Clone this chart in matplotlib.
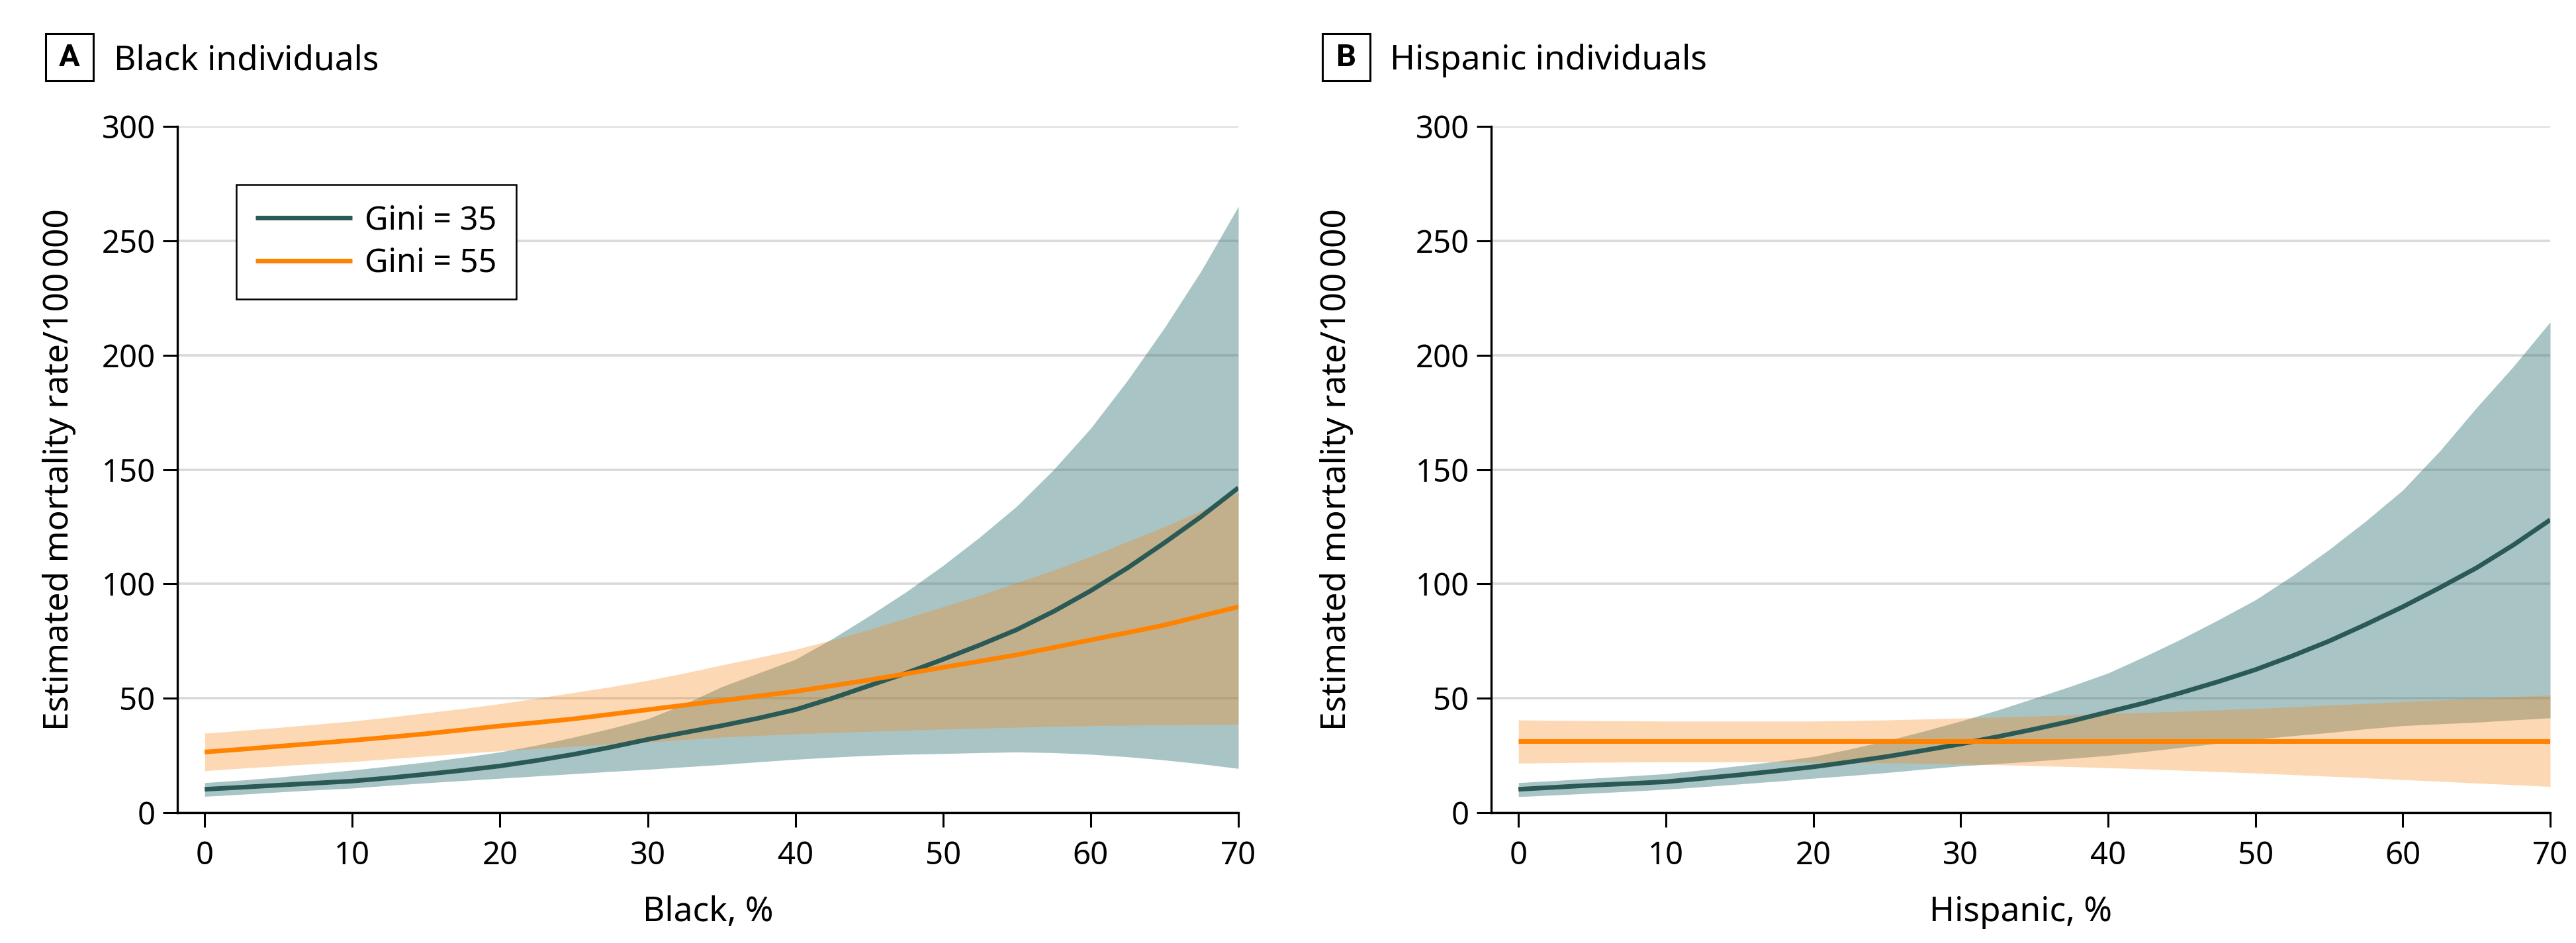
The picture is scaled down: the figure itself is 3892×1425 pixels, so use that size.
import matplotlib
matplotlib.use("Agg")
import matplotlib.pyplot as plt
from matplotlib.patches import Rectangle

plt.rcParams["font.family"] = ["Noto Sans", "DejaVu Sans"]
plt.rcParams["font.stretch"] = "condensed"

# percent of population (x axis)
pct = [0, 2.5, 5, 7.5, 10, 12.5, 15, 17.5, 20, 22.5, 25, 27.5, 30, 32.5, 35,
       37.5, 40, 42.5, 45, 47.5, 50, 52.5, 55, 57.5, 60, 62.5, 65, 67.5, 70]

# Panel A: Black individuals
a_g35 = [10.2, 11.1, 12, 12.9, 13.8, 15.2, 16.8, 18.5, 20.4, 22.8, 25.5, 28.6, 32, 35, 38,
         41.3, 45, 50, 55.5, 61, 67, 73.3, 80, 88, 97, 107, 118, 129.5, 142]
a_g35_lo = [7.1, 8, 9, 9.9, 10.7, 11.9, 13, 14, 15, 16, 17, 18, 18.9, 20, 21,
            22.2, 23.3, 24.2, 25, 25.5, 25.8, 26.2, 26.5, 26.2, 25.5, 24.4, 23, 21.3, 19.3]
a_g35_hi = [13.1, 14.2, 15.5, 17, 18.6, 20.3, 22.1, 24.2, 26.5, 29.5, 33, 36.8, 41, 47.5, 55,
            61, 67, 76, 86, 96.5, 108, 120.5, 134, 150, 168, 189, 212, 237, 265]
a_g55 = [26.5, 27.7, 29, 30.3, 31.6, 33, 34.5, 36.2, 37.9, 39.4, 41, 43, 45, 47, 49,
         51, 53, 55.5, 58, 60.7, 63.5, 66.2, 69, 72.2, 75.5, 78.7, 82, 86, 90]
a_g55_lo = [18.3, 19.4, 20.4, 21.4, 22.3, 23.5, 24.7, 25.9, 27, 28, 29, 29.9, 30.8, 31.9, 33,
            33.7, 34.4, 35, 35.5, 36, 36.5, 36.9, 37.3, 37.7, 38, 38.2, 38.3, 38.5, 38.6]
a_g55_hi = [34.7, 35.9, 37.2, 38.6, 40, 41.7, 43.6, 45.5, 47.6, 50, 52.5, 55, 57.8, 61, 64.5,
            67.8, 71.3, 75.5, 80, 85, 90, 95, 100.5, 106, 112, 118.5, 125, 132, 140]

# Panel B: Hispanic individuals
b_g35 = [10.2, 11.1, 12, 12.7, 13.5, 15, 16.5, 18.2, 20, 22.2, 24.5, 27.2, 30, 33.2, 36.5,
         40, 44, 48, 52.5, 57.3, 62.5, 68.5, 75, 82.3, 90, 98.3, 107, 117, 128]
b_g35_lo = [7, 7.7, 8.5, 9.3, 10.2, 11.3, 12.5, 13.7, 15, 16.2, 17.5, 19, 20.4, 21.4, 22.5,
            23.7, 25, 26.7, 28.5, 30.3, 32, 33.6, 35, 36.6, 38, 38.8, 39.5, 40.5, 41.4]
b_g35_hi = [13.1, 14, 15, 16, 17, 18.7, 20.5, 22.4, 24.5, 27.8, 31.5, 35.6, 40, 44.8, 50,
            55.3, 61, 68.3, 76, 84.3, 93, 103.5, 115, 127.5, 141, 158, 177, 195, 214.5]
b_g55 = [31.1, 31.1, 31.1, 31.1, 31.1, 31.1, 31.1, 31.1, 31.1, 31.1, 31.1, 31.1, 31.1, 31.1, 31.1,
         31.1, 31.1, 31.1, 31.1, 31.1, 31.1, 31.1, 31.1, 31.1, 31.1, 31.1, 31.1, 31.1, 31.1]
b_g55_lo = [21.6, 21.8, 22, 22.1, 22.2, 22.2, 22.2, 22.1, 22, 21.9, 21.7, 21.5, 21.2, 20.9, 20.5,
            20.1, 19.6, 19.1, 18.5, 17.9, 17.3, 16.6, 15.9, 15.2, 14.4, 13.7, 12.9, 12.2, 11.4]
b_g55_hi = [40.5, 40.3, 40.2, 40.1, 40, 40, 40, 40, 40, 40.2, 40.5, 40.9, 41.3, 41.7, 42.2,
            42.7, 43.3, 43.8, 44.3, 44.9, 45.5, 46.2, 47, 47.7, 48.5, 49.2, 50, 50.7, 51.4]

TEAL = "#2b5a56"
TEAL_BAND = "#427c7c"
ORANGE = "#ff8200"
ORANGE_BAND = "#f98716"

panels = [
    dict(letter="A", title="Black individuals", xlabel="Black, %",
         g35=a_g35, g35_lo=a_g35_lo, g35_hi=a_g35_hi,
         g55=a_g55, g55_lo=a_g55_lo, g55_hi=a_g55_hi),
    dict(letter="B", title="Hispanic individuals", xlabel="Hispanic, %",
         g35=b_g35, g35_lo=b_g35_lo, g35_hi=b_g35_hi,
         g55=b_g55, g55_lo=b_g55_lo, g55_hi=b_g55_hi),
]

W, H = 3892, 1425
fig = plt.figure(figsize=(W / 100, H / 100), dpi=100)

ax_left_px = [268, 2253]
ax_right_px = [1871, 3853]
ylab_px = [115, 2045]
box_px = [69, 1998]
title_px = [172, 2100]
top_px, bot_px = 191, 1228

for i, p in enumerate(panels):
    l = ax_left_px[i] / W
    w = (ax_right_px[i] - ax_left_px[i]) / W
    b = 1 - bot_px / H
    h = (bot_px - top_px) / H
    ax = fig.add_axes([l, b, w, h])

    ax.fill_between(pct, p["g35_lo"], p["g35_hi"], color=TEAL_BAND, alpha=0.45,
                    lw=0, zorder=2)
    ax.fill_between(pct, p["g55_lo"], p["g55_hi"], color=ORANGE_BAND, alpha=0.32,
                    lw=0, zorder=3)
    ax.plot(pct, p["g35"], color=TEAL, lw=5, label="Gini = 35", zorder=4,
            solid_capstyle="butt")
    ax.plot(pct, p["g55"], color=ORANGE, lw=5, label="Gini = 55", zorder=5,
            solid_capstyle="butt")

    ax.set_xlim(-1.85, 70)
    ax.set_ylim(0, 300)
    ax.set_xticks(range(0, 71, 10))
    ax.set_yticks(range(0, 301, 50))
    ax.yaxis.grid(True, color="#d9d9d9", lw=2.6, zorder=0)
    ax.set_axisbelow(True)
    for s in ("top", "right"):
        ax.spines[s].set_visible(False)
    for s in ("left", "bottom"):
        ax.spines[s].set_linewidth(2.4)
    ax.tick_params(axis="both", labelsize=34, width=2.2, length=16, color="black")
    ax.tick_params(axis="y", pad=8)
    ax.tick_params(axis="x", pad=14)

    ax.set_xlabel(p["xlabel"], fontsize=37, labelpad=26)
    ax.set_ylabel("Estimated mortality rate/100\u2009000", fontsize=37)
    ax.yaxis.set_label_coords((ylab_px[i] - ax_left_px[i]) / (ax_right_px[i] - ax_left_px[i]), 0.5)

    # panel tag box + title
    bx = box_px[i]
    fig.add_artist(Rectangle((bx / W, 1 - 122 / H), 72 / W, 71 / H,
                             transform=fig.transFigure, fill=False,
                             edgecolor="black", lw=2.2))
    fig.text((bx + 36) / W, 1 - 86.5 / H, p["letter"], fontsize=34,
             family=["Roboto", "DejaVu Sans"], fontweight="bold",
             fontstretch="normal", ha="center", va="center")
    fig.text(title_px[i] / W, 1 - 105 / H, p["title"], fontsize=37,
             ha="left", va="baseline")

    if i == 0:
        leg = ax.legend(loc="upper left", bbox_to_anchor=(0.0555, 0.915),
                        fontsize=35, frameon=True, fancybox=False,
                        handlelength=3.0, handletextpad=0.4,
                        borderpad=0.6, labelspacing=0.3, borderaxespad=0)
        leg.get_frame().set_edgecolor("black")
        leg.get_frame().set_linewidth(1.8)
        leg.get_frame().set_alpha(1)

fig.savefig("out.png", dpi=100)
